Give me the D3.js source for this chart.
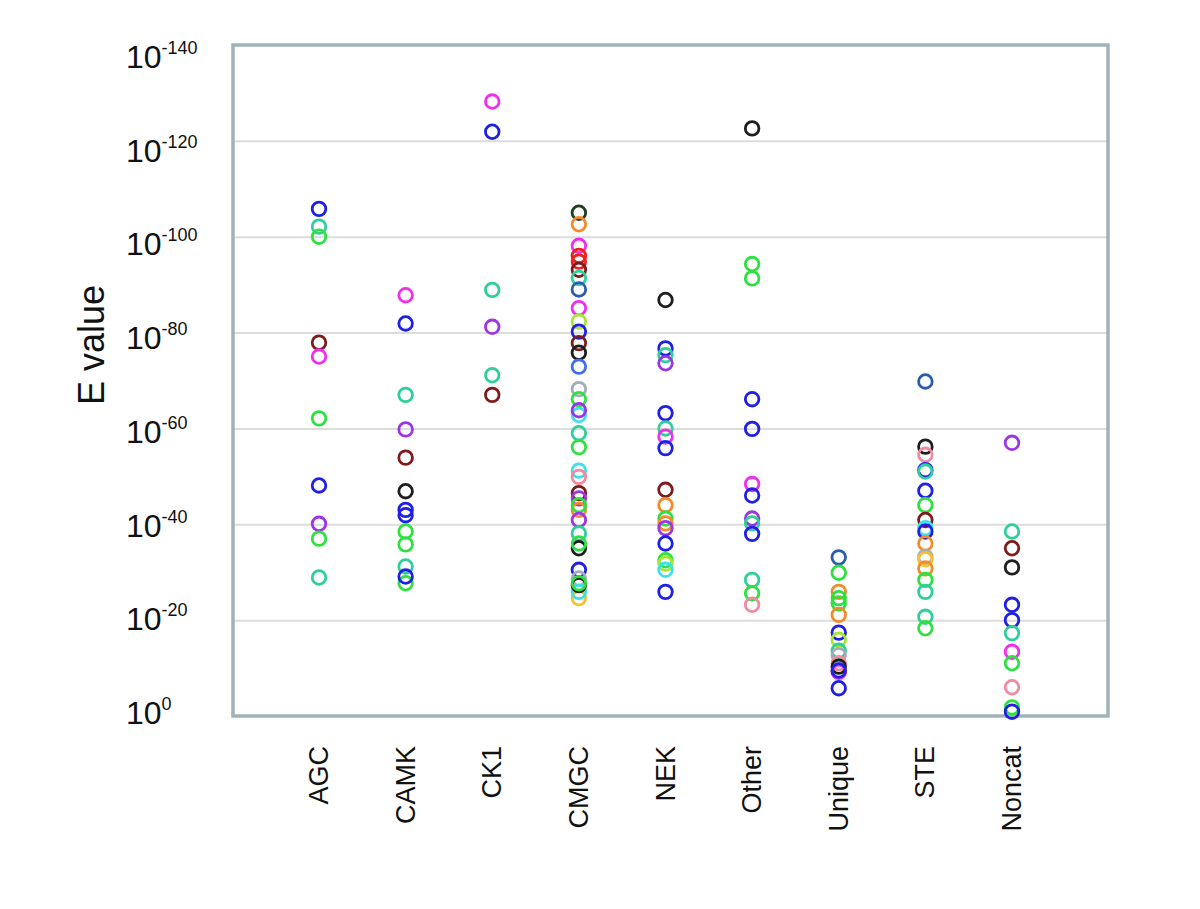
<!DOCTYPE html>
<html>
<head>
<meta charset="utf-8">
<script src="https://cdn.jsdelivr.net/npm/d3@7"></script>
<style>
  body { margin: 0; background: #fff; }
  text { font-family: "Liberation Sans", Arial, sans-serif; fill: #111; }
</style>
</head>
<body>
<div id="chart"></div>
<script>
// categories on the x axis
const categories = ["AGC", "CAMK", "CK1", "CMGC", "NEK", "Other", "Unique", "STE", "Noncat"];

// tick values = -log10(E)
const tickValues = [0, 20, 40, 60, 80, 100, 120, 140];

// points per family : [ -log10(E), colour ]
const agc = [[105.8,"blue"],[102.1,"teal"],[100.0,"green"],[77.9,"brown"],[75.0,"magenta"],[62.1,"green"],
  [48.1,"blue"],[40.1,"purple"],[37.0,"green"],[28.9,"teal"]];
const camk = [[87.8,"magenta"],[81.9,"blue"],[67.0,"teal"],[59.8,"purple"],[53.9,"brown"],[46.9,"black"],
  [43.0,"blue"],[41.9,"blue"],[38.5,"green"],[35.8,"green"],[31.2,"teal"],[27.7,"green"],[29.1,"blue"]];
const ck1 = [[128.2,"magenta"],[121.9,"blue"],[88.9,"teal"],[81.2,"purple"],[71.1,"teal"],[67.0,"brown"]];
const cmgc = [[105.0,"darkgreen"],[102.6,"orange"],[98.1,"magenta"],[96.0,"red"],[94.8,"red"],[93.1,"brown"],
  [91.4,"teal"],[89.0,"steelblue"],[85.1,"magenta"],[82.3,"yellowgreen"],[80.2,"blue"],[77.8,"brown"],
  [75.8,"black"],[72.9,"royalblue"],[68.2,"grey"],[66.1,"green"],[62.8,"cyan"],[63.8,"purple"],
  [59.0,"teal"],[56.1,"green"],[51.2,"cyan"],[49.9,"pink"],[46.5,"brown"],[45.4,"purple"],
  [43.0,"orange"],[44.0,"green"],[40.9,"purple"],[38.1,"teal"],[35.0,"black"],[36.0,"green"],
  [30.5,"blue"],[28.7,"grey"],[24.6,"yellow"],[25.9,"cyan"],[27.3,"black"],[27.7,"green"]];
const nek = [[86.8,"black"],[76.7,"blue"],[75.3,"teal"],[73.6,"purple"],[63.2,"blue"],[60.0,"teal"],
  [58.3,"magenta"],[55.9,"blue"],[47.2,"brown"],[44.0,"orange"],[41.2,"green"],[40.2,"orange"],
  [39.2,"purple"],[36.0,"blue"],[32.5,"green"],[31.8,"yellowgreen"],[30.5,"cyan"],[25.9,"blue"]];
const other = [[122.6,"black"],[94.3,"green"],[91.3,"green"],[66.1,"blue"],[59.9,"blue"],[48.4,"magenta"],
  [46.0,"blue"],[41.2,"purple"],[40.2,"teal"],[38.0,"blue"],[28.4,"teal"],[25.6,"green"],[23.2,"pink"]];
const unique = [[33.1,"steelblue"],[29.9,"green"],[25.9,"orange"],[24.6,"green"],[23.5,"green"],[21.1,"orange"],
  [17.4,"blue"],[15.9,"yellowgreen"],[13.6,"teal"],[12.7,"grey"],[11.0,"pink"],[10.3,"black"],
  [9.2,"magenta"],[9.5,"blue"],[5.8,"blue"]];
const ste = [[69.8,"steelblue"],[56.2,"black"],[54.5,"pink"],[51.3,"blue"],[51.0,"teal"],[47.0,"blue"],
  [44.0,"green"],[40.9,"brown"],[39.2,"cyan"],[38.5,"blue"],[36.0,"orange"],[33.2,"grey"],
  [32.7,"yellow"],[30.8,"orange"],[28.4,"green"],[25.9,"teal"],[20.7,"teal"],[18.3,"green"]];
const noncat = [[57.0,"purple"],[38.5,"teal"],[35.0,"brown"],[31.0,"black"],[23.2,"blue"],[20.0,"blue"],
  [17.3,"teal"],[13.4,"magenta"],[11.0,"green"],[6.0,"pink"],[1.8,"green"],[0.9,"blue"]];

const series = [agc, camk, ck1, cmgc, nek, other, unique, ste, noncat];

// couleurs des cercles
const colorNames = ["blue","teal","green","brown","magenta","purple","black","orange","red","steelblue",
  "royalblue","yellowgreen","cyan","grey","pink","darkgreen","yellow"];
const colorValues = ["#1f1fe6","#2fcf9c","#2ee040","#7d1c1c","#f02ef0","#9a35e8","#1e1e1e","#f58a2a","#f02020","#2a5db0",
  "#3f6ef0","#a6e632","#3de0e6","#a3adb8","#f28aa0","#1f3d1f","#f5c22a"];
const color = d3.scaleOrdinal().domain(colorNames).range(colorValues);

const width = 1200;
const height = 909;
const margin = {left: 233, right: 1108, top: 45, bottom: 716};

const svg = d3.select("#chart").append("svg")
    .attr("width", width)
    .attr("height", height);

svg.append("rect").attr("width", width).attr("height", height).attr("fill", "#fff");

const x = d3.scalePoint()
    .domain(categories)
    .range([319, 1012]);

const y = d3.scaleLinear()
    .domain([0, 140])
    .range([margin.bottom, margin.top]);

// labels are not exactly on the grid lines in the original
const yLabel = d3.scaleLinear()
    .domain([0, 140])
    .range([724, 68]);

// grid lines
svg.append("g")
    .attr("transform", `translate(${margin.left},0)`)
    .call(d3.axisLeft(y).tickValues(tickValues.slice(1, -1)).tickSize(-(margin.right - margin.left)).tickFormat(""))
    .call(g => g.select(".domain").remove())
    .call(g => g.selectAll(".tick line").attr("stroke", "#dcdcdc").attr("stroke-width", 2));

// frame
svg.append("rect")
    .attr("x", margin.left).attr("y", margin.top)
    .attr("width", margin.right - margin.left).attr("height", margin.bottom - margin.top)
    .attr("fill", "none")
    .attr("stroke", "#9fb3b8")
    .attr("stroke-width", 3.5);

// y tick labels 10^-n
const yt = svg.append("g").selectAll("text")
    .data(tickValues)
    .join("text")
    .attr("x", 126)
    .attr("y", d => yLabel(d));
yt.append("tspan").attr("font-size", 32).text("10");
yt.append("tspan").attr("font-size", 18).attr("dy", -14)
    .text(d => d === 0 ? "0" : "-" + d);

// y title
svg.append("text")
    .attr("transform", "translate(104,345) rotate(-90)")
    .attr("text-anchor", "middle")
    .attr("font-size", 36)
    .text("E value");

// x labels
svg.append("g").selectAll("text")
    .data(categories)
    .join("text")
    .attr("transform", d => `translate(${x(d) + 9},746) rotate(-90)`)
    .attr("text-anchor", "end")
    .attr("font-size", 27)
    .text(d => d);

// points
const groups = svg.append("g").selectAll("g")
    .data(series)
    .join("g")
    .attr("data-cat", (d, i) => categories[i]);

groups.each(function (pts, i) {
    d3.select(this).selectAll("circle")
        .data(pts)
        .join("circle")
        .attr("cx", x(categories[i]))
        .attr("cy", d => y(d[0]))
        .attr("r", 6.8)
        .attr("fill", "none")
        .attr("stroke", d => color(d[1]))
        .attr("stroke-width", 2.8);
});
</script>
</body>
</html>
